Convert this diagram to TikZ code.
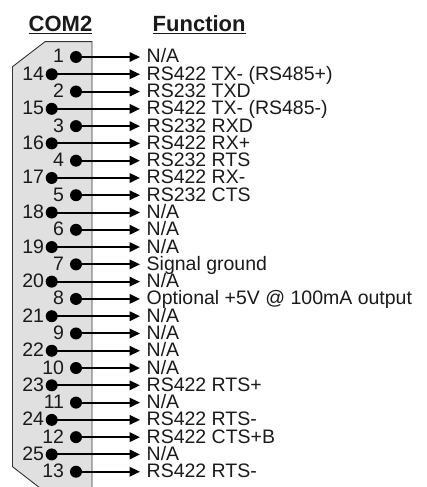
\documentclass[tikz,border=0pt]{standalone}
\usepackage{fontspec}
\setmainfont{Liberation Sans}
\usetikzlibrary{arrows.meta}
\definecolor{shell}{HTML}{E0E0E0}
\definecolor{ink}{HTML}{1A1A1A}
\begin{document}
\begin{tikzpicture}[x=1pt,y=-1pt,
  lbl/.style={font=\fontsize{19.5}{20}\selectfont, inner sep=0, anchor=base west, text=ink},
  num/.style={font=\fontsize{19.5}{20}\selectfont, inner sep=0, anchor=base east, text=ink},
  pindot/.style={circle, fill=black, inner sep=0, minimum size=12pt},
  wire/.style={line width=2pt, -{Triangle[length=10.5pt,width=9.5pt]}},
  ttl/.style={font=\fontsize{22}{24}\bfseries\selectfont, inner sep=0, anchor=base west, text=ink},
  uline/.style={line width=1.4pt, draw=ink}]
\useasboundingbox (0,0) rectangle (427,487);
\clip (0,0) rectangle (427,487);
\draw[fill=shell, draw=black!80, line width=0.9pt]
  (12.5,66.7) -- (45,41.7) -- (92,41.7) -- (92,500) -- (55.5,500) -- (12.5,466.7) -- cycle;
\node[ttl] (com) at (28.5,31.7) {COM2};
\draw[uline] ([yshift=-2pt]com.base west) -- ([yshift=-2pt]com.base east);
\node[ttl] (fun) at (152.5,31.7) {Function};
\draw[uline] ([yshift=-2pt]fun.base west) -- ([yshift=-2pt]fun.base east);
\foreach \t [count=\i from 0] in {{N/A},{RS422 TX- (RS485+)},{RS232 TXD},{RS422 TX- (RS485-)},{RS232 RXD},{RS422 RX+},{RS232 RTS},{RS422 RX-},{RS232 CTS},{N/A},{N/A},{N/A},{Signal ground},{N/A},{Optional +5V  @ 100mA output},{N/A},{N/A},{N/A},{N/A},{RS422 RTS+},{N/A},{RS422 RTS-},{RS422 CTS+B},{N/A},{RS422 RTS-}}{
  \pgfmathtruncatemacro\odd{mod(\i,2)}
  \pgfmathsetmacro\yy{57+17.28*\i}
  \ifnum\odd=0
    \def\px{76}\def\nx{64.2}\pgfmathtruncatemacro\pn{\i/2+1}
  \else
    \def\px{51.7}\def\nx{44.2}\pgfmathtruncatemacro\pn{14+(\i-1)/2}
  \fi
  \node[pindot] (p\i) at (\px,\yy) {};
  \node[num] (n\i) at (\nx,\yy+6) {\pn};
  \coordinate (e\i) at (140,\yy);
  \node[lbl] (t\i) at (146.5,\yy+6) {\t};
  \draw[wire] (p\i.center) -- (e\i);
}
\end{tikzpicture}
\end{document}
